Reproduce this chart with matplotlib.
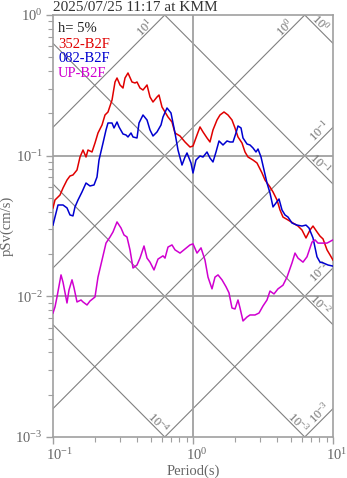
import numpy as np
import matplotlib
matplotlib.use("Agg")
import matplotlib.pyplot as plt
from matplotlib.transforms import ScaledTranslation

plt.rcParams['font.family'] = ['Liberation Serif', 'DejaVu Serif']
plt.rcParams['mathtext.fontset'] = 'custom'
plt.rcParams['mathtext.rm'] = 'Liberation Serif'
plt.rcParams['mathtext.it'] = 'Liberation Serif:italic'
plt.rcParams['mathtext.bf'] = 'Liberation Serif:bold'

# ---- pseudo-velocity response spectra (h = 5%) ----
red_period = [0.100, 0.1033, 0.1122, 0.1179, 0.1259, 0.1322, 0.1389, 0.1484, 0.1559, 0.1638,
              0.1721, 0.1778, 0.1899, 0.1995, 0.2096, 0.2239, 0.2352, 0.2471, 0.2640, 0.2773,
              0.2866, 0.3011, 0.3162, 0.3268, 0.3433, 0.3666, 0.3853, 0.3981, 0.4183, 0.4394,
              0.4694, 0.4931, 0.5179, 0.5533, 0.5716, 0.6005, 0.6310, 0.6628, 0.7079, 0.7437,
              0.8075, 0.8767, 0.9519, 1.000, 1.068, 1.122, 1.179, 1.259, 1.322, 1.389,
              1.484, 1.559, 1.665, 1.778, 1.899, 1.995, 2.096, 2.239, 2.352, 2.471,
              2.683, 2.865, 3.112, 3.268, 3.548, 3.728, 3.981, 4.183, 4.394, 4.772,
              5.179, 5.623, 6.005, 6.414, 6.849, 7.197, 7.686, 8.075, 8.483, 9.061,
              9.519, 10.0]
red_sv = [0.0425, 0.0484, 0.0525, 0.0589, 0.0671, 0.0717, 0.0729, 0.0791, 0.0978, 0.1097,
          0.0978, 0.1097, 0.1062, 0.1230, 0.1450, 0.1652, 0.1946, 0.2044, 0.2487, 0.3340,
          0.3565, 0.3180, 0.3027, 0.3565, 0.3870, 0.3340, 0.3286, 0.3340, 0.3027, 0.2930,
          0.3180, 0.2613, 0.2407, 0.2613, 0.2700, 0.2218, 0.2044, 0.1883, 0.1735, 0.1450,
          0.1380, 0.1251, 0.1152, 0.1171, 0.1403, 0.1600, 0.1474, 0.1336, 0.1251, 0.1523,
          0.1793, 0.1946, 0.2044, 0.1946, 0.1793, 0.1574, 0.1358, 0.1230, 0.1062, 0.0978,
          0.0931, 0.0887, 0.0753, 0.0671, 0.0599, 0.0552, 0.0484, 0.0411, 0.0366, 0.0349,
          0.0332, 0.0316, 0.0296, 0.0260, 0.0296, 0.0316, 0.0287, 0.0268, 0.0256, 0.0214,
          0.0197, 0.0181]

blue_period = [0.100, 0.1033, 0.1086, 0.1179, 0.1259, 0.1322, 0.1389, 0.1436, 0.1509, 0.1611,
               0.1721, 0.1837, 0.1963, 0.2062, 0.2131, 0.2276, 0.2391, 0.2471, 0.2640, 0.2728,
               0.2866, 0.2962, 0.3162, 0.3322, 0.3433, 0.3607, 0.3728, 0.3981, 0.4115, 0.4394,
               0.4694, 0.4931, 0.5179, 0.5533, 0.5907, 0.6105, 0.6520, 0.6963, 0.7437, 0.7813,
               0.8345, 0.8767, 0.9061, 0.9676, 1.000, 1.050, 1.122, 1.179, 1.259, 1.322,
               1.389, 1.460, 1.534, 1.638, 1.750, 1.837, 1.931, 2.028, 2.096, 2.203,
               2.276, 2.431, 2.554, 2.683, 2.818, 2.913, 3.061, 3.215, 3.377, 3.548,
               3.728, 3.917, 4.115, 4.323, 4.541, 4.772, 5.096, 5.533, 6.005, 6.414,
               6.738, 7.197, 7.686, 8.075, 8.483, 9.211, 10.0]
blue_sv = [0.0321, 0.0366, 0.0446, 0.0446, 0.0425, 0.0379, 0.0373, 0.0432, 0.0484, 0.0552,
           0.0639, 0.0609, 0.0619, 0.0705, 0.0931, 0.1230, 0.1523, 0.1707, 0.1707, 0.1574,
           0.1735, 0.1600, 0.1426, 0.1403, 0.1358, 0.1450, 0.1358, 0.1336, 0.1707, 0.1946,
           0.1793, 0.1523, 0.1380, 0.1474, 0.1652, 0.1883, 0.2183, 0.2011, 0.1450, 0.1097,
           0.0858, 0.0978, 0.1045, 0.0887, 0.0753, 0.0931, 0.0995, 0.0978, 0.1062, 0.0962,
           0.0902, 0.1062, 0.1272, 0.1191, 0.1272, 0.1251, 0.1251, 0.1450, 0.1626, 0.1574,
           0.1336, 0.1210, 0.1191, 0.1134, 0.1062, 0.1115, 0.0978, 0.0791, 0.0639, 0.0543,
           0.0432, 0.0461, 0.0492, 0.0411, 0.0379, 0.0366, 0.0332, 0.0321, 0.0316, 0.0321,
           0.0306, 0.0260, 0.0191, 0.0175, 0.0173, 0.0167, 0.0164]

mag_period = [0.100, 0.1033, 0.1068, 0.1141, 0.1179, 0.1259, 0.1301, 0.1367, 0.1413, 0.1484,
              0.1585, 0.1638, 0.1750, 0.1837, 0.1995, 0.2096, 0.2239, 0.2391, 0.2554, 0.2683,
              0.2866, 0.3061, 0.3215, 0.3377, 0.3548, 0.3728, 0.3981, 0.4183, 0.4467, 0.4694,
              0.4931, 0.5265, 0.5623, 0.6105, 0.6310, 0.6628, 0.7079, 0.7437, 0.8075, 0.8767,
              0.9519, 1.000, 1.068, 1.141, 1.218, 1.280, 1.367, 1.436, 1.509, 1.611,
              1.721, 1.807, 1.899, 1.995, 2.096, 2.167, 2.276, 2.431, 2.554, 2.773,
              2.962, 3.162, 3.377, 3.548, 3.789, 4.047, 4.394, 4.694, 5.096, 5.353,
              5.623, 6.105, 6.520, 7.079, 7.437, 7.813, 8.345, 9.061, 10.0]
mag_sv = [0.00761, 0.00840, 0.00989, 0.0142, 0.0126, 0.00897, 0.0111, 0.0131, 0.0115, 0.00912,
          0.00942, 0.00912, 0.00868, 0.00926, 0.00989, 0.0137, 0.0181, 0.0239, 0.0264, 0.0287,
          0.0338, 0.0306, 0.0273, 0.0264, 0.0214, 0.0159, 0.0167, 0.0187, 0.0228, 0.0187,
          0.0175, 0.0154, 0.0184, 0.0194, 0.0187, 0.0224, 0.0232, 0.0214, 0.0203, 0.0217,
          0.0232, 0.0236, 0.0203, 0.0221, 0.0181, 0.0137, 0.0113, 0.0137, 0.0142, 0.0131,
          0.0117, 0.0106, 0.00826, 0.00813, 0.00942, 0.00826, 0.00668, 0.00713, 0.00737, 0.00737,
          0.00761, 0.00854, 0.00942, 0.0109, 0.0104, 0.0113, 0.0120, 0.0137, 0.0173, 0.0203,
          0.0187, 0.0175, 0.0191, 0.0243, 0.0252, 0.0239, 0.0239, 0.0239, 0.0252]

series_names = ['352-B2F', '082-B2F', 'UP-B2F']
series_colors = ['#e00000', '#0000d0', '#d000d0']
damping_text = 'h= 5%'
title_text = '2025/07/25 11:17 at KMM'

# tripartite guide levels: displacement (cm) and acceleration (cm/s^2)
disp_levels = [1e-4, 1e-3, 1e-2, 1e-1, 1.0]
acc_levels = [1e-3, 1e-2, 1e-1, 1.0, 10.0]
x_ticks = [0.1, 1.0, 10.0]
x_ticklabels = ['$10^{-1}$', '$10^{0}$', '$10^{1}$']
y_ticks = [1e-3, 1e-2, 1e-1, 1.0]
y_ticklabels = ['$10^{-3}$', '$10^{-2}$', '$10^{-1}$', '$10^{0}$']

W, H = 347, 478
fig = plt.figure(figsize=(W / 100, H / 100), dpi=100)
ax = fig.add_axes([53 / W, (H - 437) / H, 280 / W, 422 / H])
ax.set_xscale('log')
ax.set_yscale('log')
ax.set_xlim(0.1, 10)
ax.set_ylim(1e-3, 1)

TWO_PI = 2 * np.pi
guide_color = '#808080'
label_color = '#707070'
t_line = np.logspace(-1.2, 1.2, 400)

# decades per pixel on each axis, for placing the guide labels
dx = 2 / 280
dy = 3 / 422

for d in disp_levels:
    ax.plot(t_line, TWO_PI * d / t_line, color=guide_color, lw=0.8, zorder=1)
    txt = '$10^{%d}$' % int(round(np.log10(d)))
    if TWO_PI * d / 10 >= 1e-3:
        t_ref = 10 ** (1 - 13 * dx)
        pt = (t_ref, TWO_PI * d / t_ref)
        off = (0, 7)
    else:
        sv_ref = 10 ** (-3 + 14 * dy)
        pt = (TWO_PI * d / sv_ref, sv_ref)
        off = (7, 0)
    ax.annotate(txt, xy=pt, xytext=off, textcoords='offset pixels', rotation=-45,
                ha='center', va='center', fontsize=9, color=label_color, zorder=2)

for a in acc_levels:
    ax.plot(t_line, a * t_line / TWO_PI, color=guide_color, lw=0.8, zorder=1)
    txt = '$10^{%d}$' % int(round(np.log10(a)))
    if TWO_PI / a <= 10:
        sv_ref = 10 ** (-12.5 * dy)
        pt = (TWO_PI * sv_ref / a, sv_ref)
        off = (-7, 0)
    else:
        t_ref = 10 ** (1 - 13 * dx)
        pt = (t_ref, a * t_ref / TWO_PI)
        off = (0, 9)
    ax.annotate(txt, xy=pt, xytext=off, textcoords='offset pixels', rotation=45,
                ha='center', va='center', fontsize=9, color=label_color, zorder=2)

# main grid lines
ax.axvline(1.0, color='#a0a0a0', lw=1.3, zorder=1)
for yv in (1e-1, 1e-2):
    ax.axhline(yv, color='#a0a0a0', lw=1.3, zorder=1)

for per, sv, c in zip((red_period, blue_period, mag_period),
                      (red_sv, blue_sv, mag_sv), series_colors):
    ax.plot(per, sv, color=c, lw=1.1, zorder=3)

# labels in the upper-left corner
ax.text(0.018, 0.967, damping_text, transform=ax.transAxes, fontsize=10.5,
        color='#222222', va='center', ha='left', zorder=4)
for i, (name, c) in enumerate(zip(series_names, series_colors)):
    ax.text(0.018, 0.931 - i * 0.0345, name, transform=ax.transAxes, fontsize=10.5,
            color=c, va='center', ha='left', zorder=4)

for sp in ax.spines.values():
    sp.set_color('#a0a0a0')
    sp.set_linewidth(1.2)

ax.set_xticks(x_ticks, labels=x_ticklabels)
ax.set_yticks(y_ticks, labels=y_ticklabels)
ax.tick_params(which='both', direction='out', top=False, right=False,
               color='#a0a0a0', labelcolor='#666666', labelsize=10.5)
ax.tick_params(which='major', length=5, width=1.0, pad=2.5)
ax.tick_params(which='minor', length=3.5, width=0.8)
ax.tick_params(axis='x', which='minor', labelbottom=False)
ax.tick_params(axis='y', which='minor', labelleft=False)

for lab in ax.get_xticklabels():
    lab.set_horizontalalignment('left')
    lab.set_transform(lab.get_transform() + ScaledTranslation(-7.3 / 100, 0, fig.dpi_scale_trans))

ax.set_xlabel('Period(s)', fontsize=10.5, color='#666666', labelpad=1)
ax.set_ylabel('pSv(cm/s)', fontsize=10.5, color='#666666')
ax.yaxis.set_label_coords(-0.139, 0.5)
ax.set_title(title_text, loc='left', pad=3, fontsize=11, color='#333333')

fig.savefig('out.png', dpi=100)
